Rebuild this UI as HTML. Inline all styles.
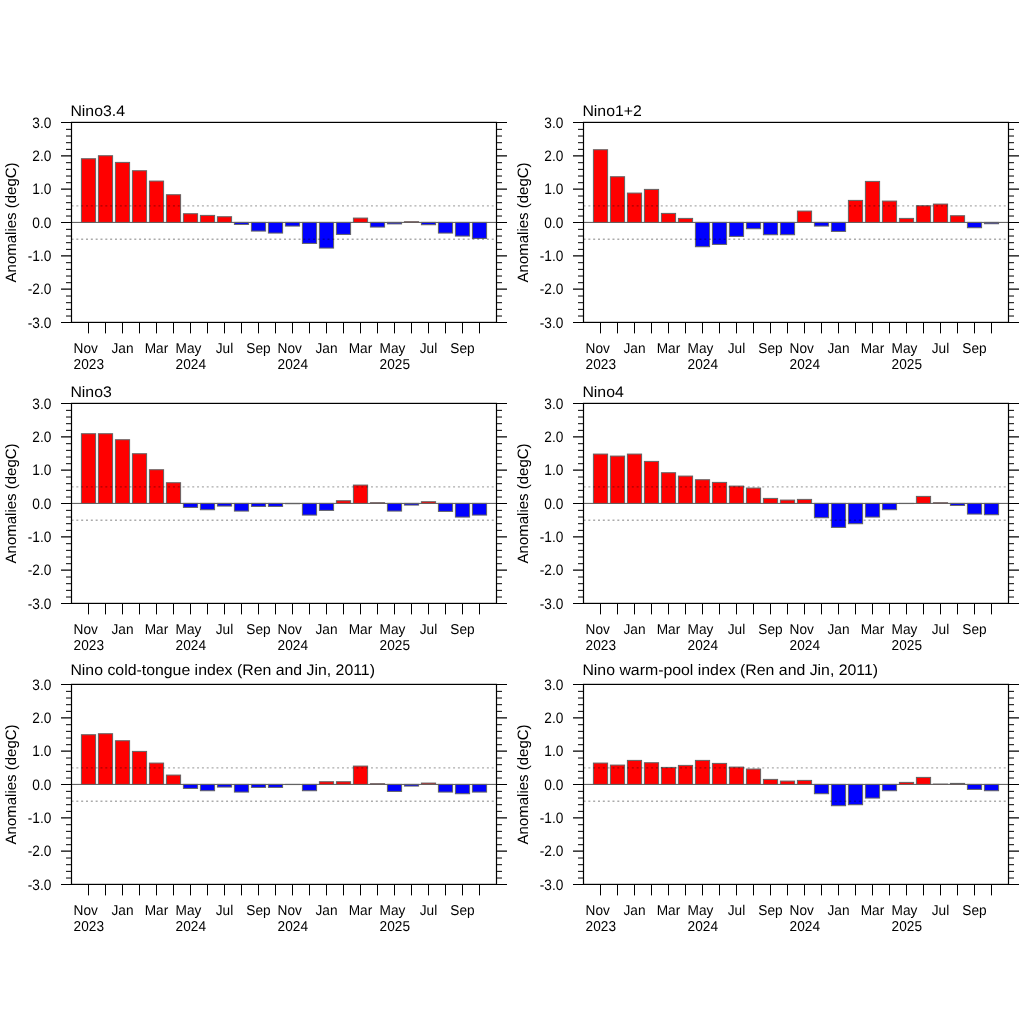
<!DOCTYPE html>
<html><head><meta charset="utf-8"><style>
html,body{margin:0;padding:0;background:#fff;}
svg{display:block;will-change:transform;}
text{text-rendering:geometricPrecision;}
.t{font-family:"Liberation Sans", sans-serif;font-size:14.3px;fill:#000;}
.ti{font-family:"Liberation Sans", sans-serif;font-size:15.3px;fill:#000;}
.ty{font-family:"Liberation Sans", sans-serif;font-size:15.2px;fill:#000;}
.ya{font-family:"Liberation Sans", sans-serif;font-size:15px;fill:#000;}
</style></head><body>
<svg width="1024" height="1024" viewBox="0 0 1024 1024">

<line x1="71.5" y1="222.4" x2="496.5" y2="222.4" stroke="#555" stroke-width="1"/>
<rect x="81.4" y="158.73" width="14.2" height="63.67" fill="#ff0000" stroke="#636363" stroke-width="1"/>
<rect x="98.4" y="155.73" width="14.2" height="66.67" fill="#ff0000" stroke="#636363" stroke-width="1"/>
<rect x="115.4" y="162.4" width="14.2" height="60" fill="#ff0000" stroke="#636363" stroke-width="1"/>
<rect x="132.4" y="170.73" width="14.2" height="51.67" fill="#ff0000" stroke="#636363" stroke-width="1"/>
<rect x="149.4" y="181.07" width="14.2" height="41.33" fill="#ff0000" stroke="#636363" stroke-width="1"/>
<rect x="166.4" y="194.73" width="14.2" height="27.67" fill="#ff0000" stroke="#636363" stroke-width="1"/>
<rect x="183.4" y="213.73" width="14.2" height="8.67" fill="#ff0000" stroke="#636363" stroke-width="1"/>
<rect x="200.4" y="215.4" width="14.2" height="7" fill="#ff0000" stroke="#636363" stroke-width="1"/>
<rect x="217.4" y="216.73" width="14.2" height="5.67" fill="#ff0000" stroke="#636363" stroke-width="1"/>
<rect x="234.4" y="222.4" width="14.2" height="2" fill="#0000ff" stroke="#636363" stroke-width="1"/>
<rect x="251.4" y="222.4" width="14.2" height="8.67" fill="#0000ff" stroke="#636363" stroke-width="1"/>
<rect x="268.4" y="222.4" width="14.2" height="10.67" fill="#0000ff" stroke="#636363" stroke-width="1"/>
<rect x="285.4" y="222.4" width="14.2" height="3.67" fill="#0000ff" stroke="#636363" stroke-width="1"/>
<rect x="302.4" y="222.4" width="14.2" height="21" fill="#0000ff" stroke="#636363" stroke-width="1"/>
<rect x="319.4" y="222.4" width="14.2" height="25.67" fill="#0000ff" stroke="#636363" stroke-width="1"/>
<rect x="336.4" y="222.4" width="14.2" height="12" fill="#0000ff" stroke="#636363" stroke-width="1"/>
<rect x="353.4" y="218.07" width="14.2" height="4.33" fill="#ff0000" stroke="#636363" stroke-width="1"/>
<rect x="370.4" y="222.4" width="14.2" height="4.67" fill="#0000ff" stroke="#636363" stroke-width="1"/>
<rect x="387.4" y="222.4" width="14.2" height="1.5" fill="#0000ff" stroke="#636363" stroke-width="1"/>
<rect x="404.4" y="221.73" width="14.2" height="0.67" fill="#ff0000" stroke="#636363" stroke-width="1"/>
<rect x="421.4" y="222.4" width="14.2" height="2.33" fill="#0000ff" stroke="#636363" stroke-width="1"/>
<rect x="438.4" y="222.4" width="14.2" height="10.67" fill="#0000ff" stroke="#636363" stroke-width="1"/>
<rect x="455.4" y="222.4" width="14.2" height="13.67" fill="#0000ff" stroke="#636363" stroke-width="1"/>
<rect x="472.4" y="222.4" width="14.2" height="16" fill="#0000ff" stroke="#636363" stroke-width="1"/>
<line x1="71.5" y1="205.93" x2="496.5" y2="205.93" stroke="#000" stroke-opacity="0.33" stroke-width="1.3" stroke-dasharray="2 2.83"/>
<line x1="71.5" y1="239.27" x2="496.5" y2="239.27" stroke="#000" stroke-opacity="0.33" stroke-width="1.3" stroke-dasharray="2 2.83"/>
<rect x="71.5" y="122.4" width="425" height="200" fill="none" stroke="#000" stroke-width="1.2"/>
<path d="M61 122.5H71.5M496.5 122.5H507M61 155.83H71.5M496.5 155.83H507M61 189.17H71.5M496.5 189.17H507M61 222.5H71.5M496.5 222.5H507M61 255.83H71.5M496.5 255.83H507M61 289.17H71.5M496.5 289.17H507M61 322.5H71.5M496.5 322.5H507" stroke="#000" stroke-width="1.2" fill="none"/>
<path d="M66 129.37H71.5M496.5 129.37H502M66 136.03H71.5M496.5 136.03H502M66 142.7H71.5M496.5 142.7H502M66 149.37H71.5M496.5 149.37H502M66 162.7H71.5M496.5 162.7H502M66 169.37H71.5M496.5 169.37H502M66 176.03H71.5M496.5 176.03H502M66 182.7H71.5M496.5 182.7H502M66 196.03H71.5M496.5 196.03H502M66 202.7H71.5M496.5 202.7H502M66 209.37H71.5M496.5 209.37H502M66 216.03H71.5M496.5 216.03H502M66 229.37H71.5M496.5 229.37H502M66 236.03H71.5M496.5 236.03H502M66 242.7H71.5M496.5 242.7H502M66 249.37H71.5M496.5 249.37H502M66 262.7H71.5M496.5 262.7H502M66 269.37H71.5M496.5 269.37H502M66 276.03H71.5M496.5 276.03H502M66 282.7H71.5M496.5 282.7H502M66 296.03H71.5M496.5 296.03H502M66 302.7H71.5M496.5 302.7H502M66 309.37H71.5M496.5 309.37H502M66 316.03H71.5M496.5 316.03H502M88.5 322.4V333.4M105.5 322.4V333.4M122.5 322.4V333.4M139.5 322.4V333.4M156.5 322.4V333.4M173.5 322.4V333.4M190.5 322.4V333.4M207.5 322.4V333.4M224.5 322.4V333.4M241.5 322.4V333.4M258.5 322.4V333.4M275.5 322.4V333.4M292.5 322.4V333.4M309.5 322.4V333.4M326.5 322.4V333.4M343.5 322.4V333.4M360.5 322.4V333.4M377.5 322.4V333.4M394.5 322.4V333.4M411.5 322.4V333.4M428.5 322.4V333.4M445.5 322.4V333.4M462.5 322.4V333.4M479.5 322.4V333.4" stroke="#000" stroke-width="1.0" fill="none"/>
<text transform="translate(51.3 127.8) scale(0.9 1)" text-anchor="end" class="ty">3.0</text>
<text transform="translate(51.3 161.13) scale(0.9 1)" text-anchor="end" class="ty">2.0</text>
<text transform="translate(51.3 194.47) scale(0.9 1)" text-anchor="end" class="ty">1.0</text>
<text transform="translate(51.3 227.8) scale(0.9 1)" text-anchor="end" class="ty">0.0</text>
<text transform="translate(51.3 261.13) scale(0.9 1)" text-anchor="end" class="ty">-1.0</text>
<text transform="translate(51.3 294.47) scale(0.9 1)" text-anchor="end" class="ty">-2.0</text>
<text transform="translate(51.3 327.8) scale(0.9 1)" text-anchor="end" class="ty">-3.0</text>
<text transform="translate(73.6 353) scale(0.955 1)" class="t">Nov</text>
<text transform="translate(73.6 368.5) scale(0.955 1)" class="t">2023</text>
<text transform="translate(122.5 353) scale(0.955 1)" text-anchor="middle" class="t">Jan</text>
<text transform="translate(156.5 353) scale(0.955 1)" text-anchor="middle" class="t">Mar</text>
<text transform="translate(175.6 353) scale(0.955 1)" class="t">May</text>
<text transform="translate(175.6 368.5) scale(0.955 1)" class="t">2024</text>
<text transform="translate(224.5 353) scale(0.955 1)" text-anchor="middle" class="t">Jul</text>
<text transform="translate(258.5 353) scale(0.955 1)" text-anchor="middle" class="t">Sep</text>
<text transform="translate(277.6 353) scale(0.955 1)" class="t">Nov</text>
<text transform="translate(277.6 368.5) scale(0.955 1)" class="t">2024</text>
<text transform="translate(326.5 353) scale(0.955 1)" text-anchor="middle" class="t">Jan</text>
<text transform="translate(360.5 353) scale(0.955 1)" text-anchor="middle" class="t">Mar</text>
<text transform="translate(379.6 353) scale(0.955 1)" class="t">May</text>
<text transform="translate(379.6 368.5) scale(0.955 1)" class="t">2025</text>
<text transform="translate(428.5 353) scale(0.955 1)" text-anchor="middle" class="t">Jul</text>
<text transform="translate(462.5 353) scale(0.955 1)" text-anchor="middle" class="t">Sep</text>
<text transform="translate(70.4 116.25) scale(1.036 1)" class="ti">Nino3.4</text>
<text transform="translate(15.8 222.4) rotate(-90)" text-anchor="middle" class="ya">Anomalies (degC)</text>
<line x1="583.5" y1="222.4" x2="1008.5" y2="222.4" stroke="#555" stroke-width="1"/>
<rect x="593.4" y="149.73" width="14.2" height="72.67" fill="#ff0000" stroke="#636363" stroke-width="1"/>
<rect x="610.4" y="176.73" width="14.2" height="45.67" fill="#ff0000" stroke="#636363" stroke-width="1"/>
<rect x="627.4" y="193.07" width="14.2" height="29.33" fill="#ff0000" stroke="#636363" stroke-width="1"/>
<rect x="644.4" y="189.4" width="14.2" height="33" fill="#ff0000" stroke="#636363" stroke-width="1"/>
<rect x="661.4" y="213.4" width="14.2" height="9" fill="#ff0000" stroke="#636363" stroke-width="1"/>
<rect x="678.4" y="218.4" width="14.2" height="4" fill="#ff0000" stroke="#636363" stroke-width="1"/>
<rect x="695.4" y="222.4" width="14.2" height="24.33" fill="#0000ff" stroke="#636363" stroke-width="1"/>
<rect x="712.4" y="222.4" width="14.2" height="22" fill="#0000ff" stroke="#636363" stroke-width="1"/>
<rect x="729.4" y="222.4" width="14.2" height="14" fill="#0000ff" stroke="#636363" stroke-width="1"/>
<rect x="746.4" y="222.4" width="14.2" height="6.33" fill="#0000ff" stroke="#636363" stroke-width="1"/>
<rect x="763.4" y="222.4" width="14.2" height="12.33" fill="#0000ff" stroke="#636363" stroke-width="1"/>
<rect x="780.4" y="222.4" width="14.2" height="12.33" fill="#0000ff" stroke="#636363" stroke-width="1"/>
<rect x="797.4" y="211.07" width="14.2" height="11.33" fill="#ff0000" stroke="#636363" stroke-width="1"/>
<rect x="814.4" y="222.4" width="14.2" height="3.67" fill="#0000ff" stroke="#636363" stroke-width="1"/>
<rect x="831.4" y="222.4" width="14.2" height="9" fill="#0000ff" stroke="#636363" stroke-width="1"/>
<rect x="848.4" y="200.4" width="14.2" height="22" fill="#ff0000" stroke="#636363" stroke-width="1"/>
<rect x="865.4" y="181.4" width="14.2" height="41" fill="#ff0000" stroke="#636363" stroke-width="1"/>
<rect x="882.4" y="201.07" width="14.2" height="21.33" fill="#ff0000" stroke="#636363" stroke-width="1"/>
<rect x="899.4" y="218.4" width="14.2" height="4" fill="#ff0000" stroke="#636363" stroke-width="1"/>
<rect x="916.4" y="205.73" width="14.2" height="16.67" fill="#ff0000" stroke="#636363" stroke-width="1"/>
<rect x="933.4" y="204.07" width="14.2" height="18.33" fill="#ff0000" stroke="#636363" stroke-width="1"/>
<rect x="950.4" y="215.73" width="14.2" height="6.67" fill="#ff0000" stroke="#636363" stroke-width="1"/>
<rect x="967.4" y="222.4" width="14.2" height="5.33" fill="#0000ff" stroke="#636363" stroke-width="1"/>
<rect x="984.4" y="222.4" width="14.2" height="1.33" fill="#0000ff" stroke="#636363" stroke-width="1"/>
<line x1="583.5" y1="205.93" x2="1008.5" y2="205.93" stroke="#000" stroke-opacity="0.33" stroke-width="1.3" stroke-dasharray="2 2.83"/>
<line x1="583.5" y1="239.27" x2="1008.5" y2="239.27" stroke="#000" stroke-opacity="0.33" stroke-width="1.3" stroke-dasharray="2 2.83"/>
<rect x="583.5" y="122.4" width="425" height="200" fill="none" stroke="#000" stroke-width="1.2"/>
<path d="M573 122.5H583.5M1008.5 122.5H1019M573 155.83H583.5M1008.5 155.83H1019M573 189.17H583.5M1008.5 189.17H1019M573 222.5H583.5M1008.5 222.5H1019M573 255.83H583.5M1008.5 255.83H1019M573 289.17H583.5M1008.5 289.17H1019M573 322.5H583.5M1008.5 322.5H1019" stroke="#000" stroke-width="1.2" fill="none"/>
<path d="M578 129.37H583.5M1008.5 129.37H1014M578 136.03H583.5M1008.5 136.03H1014M578 142.7H583.5M1008.5 142.7H1014M578 149.37H583.5M1008.5 149.37H1014M578 162.7H583.5M1008.5 162.7H1014M578 169.37H583.5M1008.5 169.37H1014M578 176.03H583.5M1008.5 176.03H1014M578 182.7H583.5M1008.5 182.7H1014M578 196.03H583.5M1008.5 196.03H1014M578 202.7H583.5M1008.5 202.7H1014M578 209.37H583.5M1008.5 209.37H1014M578 216.03H583.5M1008.5 216.03H1014M578 229.37H583.5M1008.5 229.37H1014M578 236.03H583.5M1008.5 236.03H1014M578 242.7H583.5M1008.5 242.7H1014M578 249.37H583.5M1008.5 249.37H1014M578 262.7H583.5M1008.5 262.7H1014M578 269.37H583.5M1008.5 269.37H1014M578 276.03H583.5M1008.5 276.03H1014M578 282.7H583.5M1008.5 282.7H1014M578 296.03H583.5M1008.5 296.03H1014M578 302.7H583.5M1008.5 302.7H1014M578 309.37H583.5M1008.5 309.37H1014M578 316.03H583.5M1008.5 316.03H1014M600.5 322.4V333.4M617.5 322.4V333.4M634.5 322.4V333.4M651.5 322.4V333.4M668.5 322.4V333.4M685.5 322.4V333.4M702.5 322.4V333.4M719.5 322.4V333.4M736.5 322.4V333.4M753.5 322.4V333.4M770.5 322.4V333.4M787.5 322.4V333.4M804.5 322.4V333.4M821.5 322.4V333.4M838.5 322.4V333.4M855.5 322.4V333.4M872.5 322.4V333.4M889.5 322.4V333.4M906.5 322.4V333.4M923.5 322.4V333.4M940.5 322.4V333.4M957.5 322.4V333.4M974.5 322.4V333.4M991.5 322.4V333.4" stroke="#000" stroke-width="1.0" fill="none"/>
<text transform="translate(563.3 127.8) scale(0.9 1)" text-anchor="end" class="ty">3.0</text>
<text transform="translate(563.3 161.13) scale(0.9 1)" text-anchor="end" class="ty">2.0</text>
<text transform="translate(563.3 194.47) scale(0.9 1)" text-anchor="end" class="ty">1.0</text>
<text transform="translate(563.3 227.8) scale(0.9 1)" text-anchor="end" class="ty">0.0</text>
<text transform="translate(563.3 261.13) scale(0.9 1)" text-anchor="end" class="ty">-1.0</text>
<text transform="translate(563.3 294.47) scale(0.9 1)" text-anchor="end" class="ty">-2.0</text>
<text transform="translate(563.3 327.8) scale(0.9 1)" text-anchor="end" class="ty">-3.0</text>
<text transform="translate(585.6 353) scale(0.955 1)" class="t">Nov</text>
<text transform="translate(585.6 368.5) scale(0.955 1)" class="t">2023</text>
<text transform="translate(634.5 353) scale(0.955 1)" text-anchor="middle" class="t">Jan</text>
<text transform="translate(668.5 353) scale(0.955 1)" text-anchor="middle" class="t">Mar</text>
<text transform="translate(687.6 353) scale(0.955 1)" class="t">May</text>
<text transform="translate(687.6 368.5) scale(0.955 1)" class="t">2024</text>
<text transform="translate(736.5 353) scale(0.955 1)" text-anchor="middle" class="t">Jul</text>
<text transform="translate(770.5 353) scale(0.955 1)" text-anchor="middle" class="t">Sep</text>
<text transform="translate(789.6 353) scale(0.955 1)" class="t">Nov</text>
<text transform="translate(789.6 368.5) scale(0.955 1)" class="t">2024</text>
<text transform="translate(838.5 353) scale(0.955 1)" text-anchor="middle" class="t">Jan</text>
<text transform="translate(872.5 353) scale(0.955 1)" text-anchor="middle" class="t">Mar</text>
<text transform="translate(891.6 353) scale(0.955 1)" class="t">May</text>
<text transform="translate(891.6 368.5) scale(0.955 1)" class="t">2025</text>
<text transform="translate(940.5 353) scale(0.955 1)" text-anchor="middle" class="t">Jul</text>
<text transform="translate(974.5 353) scale(0.955 1)" text-anchor="middle" class="t">Sep</text>
<text transform="translate(582.4 116.25) scale(1.036 1)" class="ti">Nino1+2</text>
<text transform="translate(527.8 222.4) rotate(-90)" text-anchor="middle" class="ya">Anomalies (degC)</text>
<line x1="71.5" y1="503.4" x2="496.5" y2="503.4" stroke="#555" stroke-width="1"/>
<rect x="81.4" y="433.73" width="14.2" height="69.67" fill="#ff0000" stroke="#636363" stroke-width="1"/>
<rect x="98.4" y="433.73" width="14.2" height="69.67" fill="#ff0000" stroke="#636363" stroke-width="1"/>
<rect x="115.4" y="439.73" width="14.2" height="63.67" fill="#ff0000" stroke="#636363" stroke-width="1"/>
<rect x="132.4" y="453.73" width="14.2" height="49.67" fill="#ff0000" stroke="#636363" stroke-width="1"/>
<rect x="149.4" y="469.73" width="14.2" height="33.67" fill="#ff0000" stroke="#636363" stroke-width="1"/>
<rect x="166.4" y="482.73" width="14.2" height="20.67" fill="#ff0000" stroke="#636363" stroke-width="1"/>
<rect x="183.4" y="503.4" width="14.2" height="4" fill="#0000ff" stroke="#636363" stroke-width="1"/>
<rect x="200.4" y="503.4" width="14.2" height="6.33" fill="#0000ff" stroke="#636363" stroke-width="1"/>
<rect x="217.4" y="503.4" width="14.2" height="2.67" fill="#0000ff" stroke="#636363" stroke-width="1"/>
<rect x="234.4" y="503.4" width="14.2" height="7.67" fill="#0000ff" stroke="#636363" stroke-width="1"/>
<rect x="251.4" y="503.4" width="14.2" height="3" fill="#0000ff" stroke="#636363" stroke-width="1"/>
<rect x="268.4" y="503.4" width="14.2" height="3" fill="#0000ff" stroke="#636363" stroke-width="1"/>
<rect x="285.4" y="503.4" width="14.2" height="0.33" fill="#0000ff" stroke="#636363" stroke-width="1"/>
<rect x="302.4" y="503.4" width="14.2" height="11.67" fill="#0000ff" stroke="#636363" stroke-width="1"/>
<rect x="319.4" y="503.4" width="14.2" height="7" fill="#0000ff" stroke="#636363" stroke-width="1"/>
<rect x="336.4" y="500.73" width="14.2" height="2.67" fill="#ff0000" stroke="#636363" stroke-width="1"/>
<rect x="353.4" y="485.07" width="14.2" height="18.33" fill="#ff0000" stroke="#636363" stroke-width="1"/>
<rect x="370.4" y="502.73" width="14.2" height="0.67" fill="#ff0000" stroke="#636363" stroke-width="1"/>
<rect x="387.4" y="503.4" width="14.2" height="7.67" fill="#0000ff" stroke="#636363" stroke-width="1"/>
<rect x="404.4" y="503.4" width="14.2" height="1.67" fill="#0000ff" stroke="#636363" stroke-width="1"/>
<rect x="421.4" y="501.73" width="14.2" height="1.67" fill="#ff0000" stroke="#636363" stroke-width="1"/>
<rect x="438.4" y="503.4" width="14.2" height="8" fill="#0000ff" stroke="#636363" stroke-width="1"/>
<rect x="455.4" y="503.4" width="14.2" height="13.67" fill="#0000ff" stroke="#636363" stroke-width="1"/>
<rect x="472.4" y="503.4" width="14.2" height="11.67" fill="#0000ff" stroke="#636363" stroke-width="1"/>
<line x1="71.5" y1="486.93" x2="496.5" y2="486.93" stroke="#000" stroke-opacity="0.33" stroke-width="1.3" stroke-dasharray="2 2.83"/>
<line x1="71.5" y1="520.27" x2="496.5" y2="520.27" stroke="#000" stroke-opacity="0.33" stroke-width="1.3" stroke-dasharray="2 2.83"/>
<rect x="71.5" y="403.4" width="425" height="200" fill="none" stroke="#000" stroke-width="1.2"/>
<path d="M61 403.5H71.5M496.5 403.5H507M61 436.83H71.5M496.5 436.83H507M61 470.17H71.5M496.5 470.17H507M61 503.5H71.5M496.5 503.5H507M61 536.83H71.5M496.5 536.83H507M61 570.17H71.5M496.5 570.17H507M61 603.5H71.5M496.5 603.5H507" stroke="#000" stroke-width="1.2" fill="none"/>
<path d="M66 410.37H71.5M496.5 410.37H502M66 417.03H71.5M496.5 417.03H502M66 423.7H71.5M496.5 423.7H502M66 430.37H71.5M496.5 430.37H502M66 443.7H71.5M496.5 443.7H502M66 450.37H71.5M496.5 450.37H502M66 457.03H71.5M496.5 457.03H502M66 463.7H71.5M496.5 463.7H502M66 477.03H71.5M496.5 477.03H502M66 483.7H71.5M496.5 483.7H502M66 490.37H71.5M496.5 490.37H502M66 497.03H71.5M496.5 497.03H502M66 510.37H71.5M496.5 510.37H502M66 517.03H71.5M496.5 517.03H502M66 523.7H71.5M496.5 523.7H502M66 530.37H71.5M496.5 530.37H502M66 543.7H71.5M496.5 543.7H502M66 550.37H71.5M496.5 550.37H502M66 557.03H71.5M496.5 557.03H502M66 563.7H71.5M496.5 563.7H502M66 577.03H71.5M496.5 577.03H502M66 583.7H71.5M496.5 583.7H502M66 590.37H71.5M496.5 590.37H502M66 597.03H71.5M496.5 597.03H502M88.5 603.4V614.4M105.5 603.4V614.4M122.5 603.4V614.4M139.5 603.4V614.4M156.5 603.4V614.4M173.5 603.4V614.4M190.5 603.4V614.4M207.5 603.4V614.4M224.5 603.4V614.4M241.5 603.4V614.4M258.5 603.4V614.4M275.5 603.4V614.4M292.5 603.4V614.4M309.5 603.4V614.4M326.5 603.4V614.4M343.5 603.4V614.4M360.5 603.4V614.4M377.5 603.4V614.4M394.5 603.4V614.4M411.5 603.4V614.4M428.5 603.4V614.4M445.5 603.4V614.4M462.5 603.4V614.4M479.5 603.4V614.4" stroke="#000" stroke-width="1.0" fill="none"/>
<text transform="translate(51.3 408.8) scale(0.9 1)" text-anchor="end" class="ty">3.0</text>
<text transform="translate(51.3 442.13) scale(0.9 1)" text-anchor="end" class="ty">2.0</text>
<text transform="translate(51.3 475.47) scale(0.9 1)" text-anchor="end" class="ty">1.0</text>
<text transform="translate(51.3 508.8) scale(0.9 1)" text-anchor="end" class="ty">0.0</text>
<text transform="translate(51.3 542.13) scale(0.9 1)" text-anchor="end" class="ty">-1.0</text>
<text transform="translate(51.3 575.47) scale(0.9 1)" text-anchor="end" class="ty">-2.0</text>
<text transform="translate(51.3 608.8) scale(0.9 1)" text-anchor="end" class="ty">-3.0</text>
<text transform="translate(73.6 634) scale(0.955 1)" class="t">Nov</text>
<text transform="translate(73.6 649.5) scale(0.955 1)" class="t">2023</text>
<text transform="translate(122.5 634) scale(0.955 1)" text-anchor="middle" class="t">Jan</text>
<text transform="translate(156.5 634) scale(0.955 1)" text-anchor="middle" class="t">Mar</text>
<text transform="translate(175.6 634) scale(0.955 1)" class="t">May</text>
<text transform="translate(175.6 649.5) scale(0.955 1)" class="t">2024</text>
<text transform="translate(224.5 634) scale(0.955 1)" text-anchor="middle" class="t">Jul</text>
<text transform="translate(258.5 634) scale(0.955 1)" text-anchor="middle" class="t">Sep</text>
<text transform="translate(277.6 634) scale(0.955 1)" class="t">Nov</text>
<text transform="translate(277.6 649.5) scale(0.955 1)" class="t">2024</text>
<text transform="translate(326.5 634) scale(0.955 1)" text-anchor="middle" class="t">Jan</text>
<text transform="translate(360.5 634) scale(0.955 1)" text-anchor="middle" class="t">Mar</text>
<text transform="translate(379.6 634) scale(0.955 1)" class="t">May</text>
<text transform="translate(379.6 649.5) scale(0.955 1)" class="t">2025</text>
<text transform="translate(428.5 634) scale(0.955 1)" text-anchor="middle" class="t">Jul</text>
<text transform="translate(462.5 634) scale(0.955 1)" text-anchor="middle" class="t">Sep</text>
<text transform="translate(70.4 397.25) scale(1.036 1)" class="ti">Nino3</text>
<text transform="translate(15.8 503.4) rotate(-90)" text-anchor="middle" class="ya">Anomalies (degC)</text>
<line x1="583.5" y1="503.4" x2="1008.5" y2="503.4" stroke="#555" stroke-width="1"/>
<rect x="593.4" y="454.07" width="14.2" height="49.33" fill="#ff0000" stroke="#636363" stroke-width="1"/>
<rect x="610.4" y="456.07" width="14.2" height="47.33" fill="#ff0000" stroke="#636363" stroke-width="1"/>
<rect x="627.4" y="454.07" width="14.2" height="49.33" fill="#ff0000" stroke="#636363" stroke-width="1"/>
<rect x="644.4" y="461.4" width="14.2" height="42" fill="#ff0000" stroke="#636363" stroke-width="1"/>
<rect x="661.4" y="472.73" width="14.2" height="30.67" fill="#ff0000" stroke="#636363" stroke-width="1"/>
<rect x="678.4" y="476.07" width="14.2" height="27.33" fill="#ff0000" stroke="#636363" stroke-width="1"/>
<rect x="695.4" y="479.73" width="14.2" height="23.67" fill="#ff0000" stroke="#636363" stroke-width="1"/>
<rect x="712.4" y="482.4" width="14.2" height="21" fill="#ff0000" stroke="#636363" stroke-width="1"/>
<rect x="729.4" y="486.07" width="14.2" height="17.33" fill="#ff0000" stroke="#636363" stroke-width="1"/>
<rect x="746.4" y="488.07" width="14.2" height="15.33" fill="#ff0000" stroke="#636363" stroke-width="1"/>
<rect x="763.4" y="498.4" width="14.2" height="5" fill="#ff0000" stroke="#636363" stroke-width="1"/>
<rect x="780.4" y="500.07" width="14.2" height="3.33" fill="#ff0000" stroke="#636363" stroke-width="1"/>
<rect x="797.4" y="499.4" width="14.2" height="4" fill="#ff0000" stroke="#636363" stroke-width="1"/>
<rect x="814.4" y="503.4" width="14.2" height="14.33" fill="#0000ff" stroke="#636363" stroke-width="1"/>
<rect x="831.4" y="503.4" width="14.2" height="24" fill="#0000ff" stroke="#636363" stroke-width="1"/>
<rect x="848.4" y="503.4" width="14.2" height="20.33" fill="#0000ff" stroke="#636363" stroke-width="1"/>
<rect x="865.4" y="503.4" width="14.2" height="13.67" fill="#0000ff" stroke="#636363" stroke-width="1"/>
<rect x="882.4" y="503.4" width="14.2" height="6.33" fill="#0000ff" stroke="#636363" stroke-width="1"/>
<rect x="899.4" y="503.4" width="14.2" height="0.17" fill="#0000ff" stroke="#636363" stroke-width="1"/>
<rect x="916.4" y="496.4" width="14.2" height="7" fill="#ff0000" stroke="#636363" stroke-width="1"/>
<rect x="933.4" y="502.73" width="14.2" height="0.67" fill="#ff0000" stroke="#636363" stroke-width="1"/>
<rect x="950.4" y="503.4" width="14.2" height="2" fill="#0000ff" stroke="#636363" stroke-width="1"/>
<rect x="967.4" y="503.4" width="14.2" height="10.67" fill="#0000ff" stroke="#636363" stroke-width="1"/>
<rect x="984.4" y="503.4" width="14.2" height="11.33" fill="#0000ff" stroke="#636363" stroke-width="1"/>
<line x1="583.5" y1="486.93" x2="1008.5" y2="486.93" stroke="#000" stroke-opacity="0.33" stroke-width="1.3" stroke-dasharray="2 2.83"/>
<line x1="583.5" y1="520.27" x2="1008.5" y2="520.27" stroke="#000" stroke-opacity="0.33" stroke-width="1.3" stroke-dasharray="2 2.83"/>
<rect x="583.5" y="403.4" width="425" height="200" fill="none" stroke="#000" stroke-width="1.2"/>
<path d="M573 403.5H583.5M1008.5 403.5H1019M573 436.83H583.5M1008.5 436.83H1019M573 470.17H583.5M1008.5 470.17H1019M573 503.5H583.5M1008.5 503.5H1019M573 536.83H583.5M1008.5 536.83H1019M573 570.17H583.5M1008.5 570.17H1019M573 603.5H583.5M1008.5 603.5H1019" stroke="#000" stroke-width="1.2" fill="none"/>
<path d="M578 410.37H583.5M1008.5 410.37H1014M578 417.03H583.5M1008.5 417.03H1014M578 423.7H583.5M1008.5 423.7H1014M578 430.37H583.5M1008.5 430.37H1014M578 443.7H583.5M1008.5 443.7H1014M578 450.37H583.5M1008.5 450.37H1014M578 457.03H583.5M1008.5 457.03H1014M578 463.7H583.5M1008.5 463.7H1014M578 477.03H583.5M1008.5 477.03H1014M578 483.7H583.5M1008.5 483.7H1014M578 490.37H583.5M1008.5 490.37H1014M578 497.03H583.5M1008.5 497.03H1014M578 510.37H583.5M1008.5 510.37H1014M578 517.03H583.5M1008.5 517.03H1014M578 523.7H583.5M1008.5 523.7H1014M578 530.37H583.5M1008.5 530.37H1014M578 543.7H583.5M1008.5 543.7H1014M578 550.37H583.5M1008.5 550.37H1014M578 557.03H583.5M1008.5 557.03H1014M578 563.7H583.5M1008.5 563.7H1014M578 577.03H583.5M1008.5 577.03H1014M578 583.7H583.5M1008.5 583.7H1014M578 590.37H583.5M1008.5 590.37H1014M578 597.03H583.5M1008.5 597.03H1014M600.5 603.4V614.4M617.5 603.4V614.4M634.5 603.4V614.4M651.5 603.4V614.4M668.5 603.4V614.4M685.5 603.4V614.4M702.5 603.4V614.4M719.5 603.4V614.4M736.5 603.4V614.4M753.5 603.4V614.4M770.5 603.4V614.4M787.5 603.4V614.4M804.5 603.4V614.4M821.5 603.4V614.4M838.5 603.4V614.4M855.5 603.4V614.4M872.5 603.4V614.4M889.5 603.4V614.4M906.5 603.4V614.4M923.5 603.4V614.4M940.5 603.4V614.4M957.5 603.4V614.4M974.5 603.4V614.4M991.5 603.4V614.4" stroke="#000" stroke-width="1.0" fill="none"/>
<text transform="translate(563.3 408.8) scale(0.9 1)" text-anchor="end" class="ty">3.0</text>
<text transform="translate(563.3 442.13) scale(0.9 1)" text-anchor="end" class="ty">2.0</text>
<text transform="translate(563.3 475.47) scale(0.9 1)" text-anchor="end" class="ty">1.0</text>
<text transform="translate(563.3 508.8) scale(0.9 1)" text-anchor="end" class="ty">0.0</text>
<text transform="translate(563.3 542.13) scale(0.9 1)" text-anchor="end" class="ty">-1.0</text>
<text transform="translate(563.3 575.47) scale(0.9 1)" text-anchor="end" class="ty">-2.0</text>
<text transform="translate(563.3 608.8) scale(0.9 1)" text-anchor="end" class="ty">-3.0</text>
<text transform="translate(585.6 634) scale(0.955 1)" class="t">Nov</text>
<text transform="translate(585.6 649.5) scale(0.955 1)" class="t">2023</text>
<text transform="translate(634.5 634) scale(0.955 1)" text-anchor="middle" class="t">Jan</text>
<text transform="translate(668.5 634) scale(0.955 1)" text-anchor="middle" class="t">Mar</text>
<text transform="translate(687.6 634) scale(0.955 1)" class="t">May</text>
<text transform="translate(687.6 649.5) scale(0.955 1)" class="t">2024</text>
<text transform="translate(736.5 634) scale(0.955 1)" text-anchor="middle" class="t">Jul</text>
<text transform="translate(770.5 634) scale(0.955 1)" text-anchor="middle" class="t">Sep</text>
<text transform="translate(789.6 634) scale(0.955 1)" class="t">Nov</text>
<text transform="translate(789.6 649.5) scale(0.955 1)" class="t">2024</text>
<text transform="translate(838.5 634) scale(0.955 1)" text-anchor="middle" class="t">Jan</text>
<text transform="translate(872.5 634) scale(0.955 1)" text-anchor="middle" class="t">Mar</text>
<text transform="translate(891.6 634) scale(0.955 1)" class="t">May</text>
<text transform="translate(891.6 649.5) scale(0.955 1)" class="t">2025</text>
<text transform="translate(940.5 634) scale(0.955 1)" text-anchor="middle" class="t">Jul</text>
<text transform="translate(974.5 634) scale(0.955 1)" text-anchor="middle" class="t">Sep</text>
<text transform="translate(582.4 397.25) scale(1.036 1)" class="ti">Nino4</text>
<text transform="translate(527.8 503.4) rotate(-90)" text-anchor="middle" class="ya">Anomalies (degC)</text>
<line x1="71.5" y1="784.4" x2="496.5" y2="784.4" stroke="#555" stroke-width="1"/>
<rect x="81.4" y="734.73" width="14.2" height="49.67" fill="#ff0000" stroke="#636363" stroke-width="1"/>
<rect x="98.4" y="733.73" width="14.2" height="50.67" fill="#ff0000" stroke="#636363" stroke-width="1"/>
<rect x="115.4" y="740.73" width="14.2" height="43.67" fill="#ff0000" stroke="#636363" stroke-width="1"/>
<rect x="132.4" y="751.4" width="14.2" height="33" fill="#ff0000" stroke="#636363" stroke-width="1"/>
<rect x="149.4" y="763.07" width="14.2" height="21.33" fill="#ff0000" stroke="#636363" stroke-width="1"/>
<rect x="166.4" y="775.07" width="14.2" height="9.33" fill="#ff0000" stroke="#636363" stroke-width="1"/>
<rect x="183.4" y="784.4" width="14.2" height="4" fill="#0000ff" stroke="#636363" stroke-width="1"/>
<rect x="200.4" y="784.4" width="14.2" height="6.33" fill="#0000ff" stroke="#636363" stroke-width="1"/>
<rect x="217.4" y="784.4" width="14.2" height="2.67" fill="#0000ff" stroke="#636363" stroke-width="1"/>
<rect x="234.4" y="784.4" width="14.2" height="7.67" fill="#0000ff" stroke="#636363" stroke-width="1"/>
<rect x="251.4" y="784.4" width="14.2" height="3" fill="#0000ff" stroke="#636363" stroke-width="1"/>
<rect x="268.4" y="784.4" width="14.2" height="3" fill="#0000ff" stroke="#636363" stroke-width="1"/>
<rect x="285.4" y="784.4" width="14.2" height="0.17" fill="#0000ff" stroke="#636363" stroke-width="1"/>
<rect x="302.4" y="784.4" width="14.2" height="6.33" fill="#0000ff" stroke="#636363" stroke-width="1"/>
<rect x="319.4" y="781.73" width="14.2" height="2.67" fill="#ff0000" stroke="#636363" stroke-width="1"/>
<rect x="336.4" y="781.73" width="14.2" height="2.67" fill="#ff0000" stroke="#636363" stroke-width="1"/>
<rect x="353.4" y="766.07" width="14.2" height="18.33" fill="#ff0000" stroke="#636363" stroke-width="1"/>
<rect x="370.4" y="783.73" width="14.2" height="0.67" fill="#ff0000" stroke="#636363" stroke-width="1"/>
<rect x="387.4" y="784.4" width="14.2" height="7" fill="#0000ff" stroke="#636363" stroke-width="1"/>
<rect x="404.4" y="784.4" width="14.2" height="1.67" fill="#0000ff" stroke="#636363" stroke-width="1"/>
<rect x="421.4" y="783.07" width="14.2" height="1.33" fill="#ff0000" stroke="#636363" stroke-width="1"/>
<rect x="438.4" y="784.4" width="14.2" height="7.67" fill="#0000ff" stroke="#636363" stroke-width="1"/>
<rect x="455.4" y="784.4" width="14.2" height="9.33" fill="#0000ff" stroke="#636363" stroke-width="1"/>
<rect x="472.4" y="784.4" width="14.2" height="7.67" fill="#0000ff" stroke="#636363" stroke-width="1"/>
<line x1="71.5" y1="767.93" x2="496.5" y2="767.93" stroke="#000" stroke-opacity="0.33" stroke-width="1.3" stroke-dasharray="2 2.83"/>
<line x1="71.5" y1="801.27" x2="496.5" y2="801.27" stroke="#000" stroke-opacity="0.33" stroke-width="1.3" stroke-dasharray="2 2.83"/>
<rect x="71.5" y="684.4" width="425" height="200" fill="none" stroke="#000" stroke-width="1.2"/>
<path d="M61 684.5H71.5M496.5 684.5H507M61 717.83H71.5M496.5 717.83H507M61 751.17H71.5M496.5 751.17H507M61 784.5H71.5M496.5 784.5H507M61 817.83H71.5M496.5 817.83H507M61 851.17H71.5M496.5 851.17H507M61 884.5H71.5M496.5 884.5H507" stroke="#000" stroke-width="1.2" fill="none"/>
<path d="M66 691.37H71.5M496.5 691.37H502M66 698.03H71.5M496.5 698.03H502M66 704.7H71.5M496.5 704.7H502M66 711.37H71.5M496.5 711.37H502M66 724.7H71.5M496.5 724.7H502M66 731.37H71.5M496.5 731.37H502M66 738.03H71.5M496.5 738.03H502M66 744.7H71.5M496.5 744.7H502M66 758.03H71.5M496.5 758.03H502M66 764.7H71.5M496.5 764.7H502M66 771.37H71.5M496.5 771.37H502M66 778.03H71.5M496.5 778.03H502M66 791.37H71.5M496.5 791.37H502M66 798.03H71.5M496.5 798.03H502M66 804.7H71.5M496.5 804.7H502M66 811.37H71.5M496.5 811.37H502M66 824.7H71.5M496.5 824.7H502M66 831.37H71.5M496.5 831.37H502M66 838.03H71.5M496.5 838.03H502M66 844.7H71.5M496.5 844.7H502M66 858.03H71.5M496.5 858.03H502M66 864.7H71.5M496.5 864.7H502M66 871.37H71.5M496.5 871.37H502M66 878.03H71.5M496.5 878.03H502M88.5 884.4V895.4M105.5 884.4V895.4M122.5 884.4V895.4M139.5 884.4V895.4M156.5 884.4V895.4M173.5 884.4V895.4M190.5 884.4V895.4M207.5 884.4V895.4M224.5 884.4V895.4M241.5 884.4V895.4M258.5 884.4V895.4M275.5 884.4V895.4M292.5 884.4V895.4M309.5 884.4V895.4M326.5 884.4V895.4M343.5 884.4V895.4M360.5 884.4V895.4M377.5 884.4V895.4M394.5 884.4V895.4M411.5 884.4V895.4M428.5 884.4V895.4M445.5 884.4V895.4M462.5 884.4V895.4M479.5 884.4V895.4" stroke="#000" stroke-width="1.0" fill="none"/>
<text transform="translate(51.3 689.8) scale(0.9 1)" text-anchor="end" class="ty">3.0</text>
<text transform="translate(51.3 723.13) scale(0.9 1)" text-anchor="end" class="ty">2.0</text>
<text transform="translate(51.3 756.47) scale(0.9 1)" text-anchor="end" class="ty">1.0</text>
<text transform="translate(51.3 789.8) scale(0.9 1)" text-anchor="end" class="ty">0.0</text>
<text transform="translate(51.3 823.13) scale(0.9 1)" text-anchor="end" class="ty">-1.0</text>
<text transform="translate(51.3 856.47) scale(0.9 1)" text-anchor="end" class="ty">-2.0</text>
<text transform="translate(51.3 889.8) scale(0.9 1)" text-anchor="end" class="ty">-3.0</text>
<text transform="translate(73.6 915) scale(0.955 1)" class="t">Nov</text>
<text transform="translate(73.6 930.5) scale(0.955 1)" class="t">2023</text>
<text transform="translate(122.5 915) scale(0.955 1)" text-anchor="middle" class="t">Jan</text>
<text transform="translate(156.5 915) scale(0.955 1)" text-anchor="middle" class="t">Mar</text>
<text transform="translate(175.6 915) scale(0.955 1)" class="t">May</text>
<text transform="translate(175.6 930.5) scale(0.955 1)" class="t">2024</text>
<text transform="translate(224.5 915) scale(0.955 1)" text-anchor="middle" class="t">Jul</text>
<text transform="translate(258.5 915) scale(0.955 1)" text-anchor="middle" class="t">Sep</text>
<text transform="translate(277.6 915) scale(0.955 1)" class="t">Nov</text>
<text transform="translate(277.6 930.5) scale(0.955 1)" class="t">2024</text>
<text transform="translate(326.5 915) scale(0.955 1)" text-anchor="middle" class="t">Jan</text>
<text transform="translate(360.5 915) scale(0.955 1)" text-anchor="middle" class="t">Mar</text>
<text transform="translate(379.6 915) scale(0.955 1)" class="t">May</text>
<text transform="translate(379.6 930.5) scale(0.955 1)" class="t">2025</text>
<text transform="translate(428.5 915) scale(0.955 1)" text-anchor="middle" class="t">Jul</text>
<text transform="translate(462.5 915) scale(0.955 1)" text-anchor="middle" class="t">Sep</text>
<text transform="translate(70.4 675.15) scale(1.036 1)" class="ti">Nino cold-tongue index (Ren and Jin, 2011)</text>
<text transform="translate(15.8 784.4) rotate(-90)" text-anchor="middle" class="ya">Anomalies (degC)</text>
<line x1="583.5" y1="784.4" x2="1008.5" y2="784.4" stroke="#555" stroke-width="1"/>
<rect x="593.4" y="763.07" width="14.2" height="21.33" fill="#ff0000" stroke="#636363" stroke-width="1"/>
<rect x="610.4" y="765.07" width="14.2" height="19.33" fill="#ff0000" stroke="#636363" stroke-width="1"/>
<rect x="627.4" y="760.4" width="14.2" height="24" fill="#ff0000" stroke="#636363" stroke-width="1"/>
<rect x="644.4" y="762.73" width="14.2" height="21.67" fill="#ff0000" stroke="#636363" stroke-width="1"/>
<rect x="661.4" y="767.4" width="14.2" height="17" fill="#ff0000" stroke="#636363" stroke-width="1"/>
<rect x="678.4" y="765.4" width="14.2" height="19" fill="#ff0000" stroke="#636363" stroke-width="1"/>
<rect x="695.4" y="760.4" width="14.2" height="24" fill="#ff0000" stroke="#636363" stroke-width="1"/>
<rect x="712.4" y="763.4" width="14.2" height="21" fill="#ff0000" stroke="#636363" stroke-width="1"/>
<rect x="729.4" y="767.07" width="14.2" height="17.33" fill="#ff0000" stroke="#636363" stroke-width="1"/>
<rect x="746.4" y="769.07" width="14.2" height="15.33" fill="#ff0000" stroke="#636363" stroke-width="1"/>
<rect x="763.4" y="779.4" width="14.2" height="5" fill="#ff0000" stroke="#636363" stroke-width="1"/>
<rect x="780.4" y="781.07" width="14.2" height="3.33" fill="#ff0000" stroke="#636363" stroke-width="1"/>
<rect x="797.4" y="780.4" width="14.2" height="4" fill="#ff0000" stroke="#636363" stroke-width="1"/>
<rect x="814.4" y="784.4" width="14.2" height="9.33" fill="#0000ff" stroke="#636363" stroke-width="1"/>
<rect x="831.4" y="784.4" width="14.2" height="21.33" fill="#0000ff" stroke="#636363" stroke-width="1"/>
<rect x="848.4" y="784.4" width="14.2" height="20.33" fill="#0000ff" stroke="#636363" stroke-width="1"/>
<rect x="865.4" y="784.4" width="14.2" height="13.67" fill="#0000ff" stroke="#636363" stroke-width="1"/>
<rect x="882.4" y="784.4" width="14.2" height="6.33" fill="#0000ff" stroke="#636363" stroke-width="1"/>
<rect x="899.4" y="782.4" width="14.2" height="2" fill="#ff0000" stroke="#636363" stroke-width="1"/>
<rect x="916.4" y="777.4" width="14.2" height="7" fill="#ff0000" stroke="#636363" stroke-width="1"/>
<rect x="933.4" y="784.07" width="14.2" height="0.33" fill="#ff0000" stroke="#636363" stroke-width="1"/>
<rect x="950.4" y="783.4" width="14.2" height="1" fill="#ff0000" stroke="#636363" stroke-width="1"/>
<rect x="967.4" y="784.4" width="14.2" height="5" fill="#0000ff" stroke="#636363" stroke-width="1"/>
<rect x="984.4" y="784.4" width="14.2" height="6.33" fill="#0000ff" stroke="#636363" stroke-width="1"/>
<line x1="583.5" y1="767.93" x2="1008.5" y2="767.93" stroke="#000" stroke-opacity="0.33" stroke-width="1.3" stroke-dasharray="2 2.83"/>
<line x1="583.5" y1="801.27" x2="1008.5" y2="801.27" stroke="#000" stroke-opacity="0.33" stroke-width="1.3" stroke-dasharray="2 2.83"/>
<rect x="583.5" y="684.4" width="425" height="200" fill="none" stroke="#000" stroke-width="1.2"/>
<path d="M573 684.5H583.5M1008.5 684.5H1019M573 717.83H583.5M1008.5 717.83H1019M573 751.17H583.5M1008.5 751.17H1019M573 784.5H583.5M1008.5 784.5H1019M573 817.83H583.5M1008.5 817.83H1019M573 851.17H583.5M1008.5 851.17H1019M573 884.5H583.5M1008.5 884.5H1019" stroke="#000" stroke-width="1.2" fill="none"/>
<path d="M578 691.37H583.5M1008.5 691.37H1014M578 698.03H583.5M1008.5 698.03H1014M578 704.7H583.5M1008.5 704.7H1014M578 711.37H583.5M1008.5 711.37H1014M578 724.7H583.5M1008.5 724.7H1014M578 731.37H583.5M1008.5 731.37H1014M578 738.03H583.5M1008.5 738.03H1014M578 744.7H583.5M1008.5 744.7H1014M578 758.03H583.5M1008.5 758.03H1014M578 764.7H583.5M1008.5 764.7H1014M578 771.37H583.5M1008.5 771.37H1014M578 778.03H583.5M1008.5 778.03H1014M578 791.37H583.5M1008.5 791.37H1014M578 798.03H583.5M1008.5 798.03H1014M578 804.7H583.5M1008.5 804.7H1014M578 811.37H583.5M1008.5 811.37H1014M578 824.7H583.5M1008.5 824.7H1014M578 831.37H583.5M1008.5 831.37H1014M578 838.03H583.5M1008.5 838.03H1014M578 844.7H583.5M1008.5 844.7H1014M578 858.03H583.5M1008.5 858.03H1014M578 864.7H583.5M1008.5 864.7H1014M578 871.37H583.5M1008.5 871.37H1014M578 878.03H583.5M1008.5 878.03H1014M600.5 884.4V895.4M617.5 884.4V895.4M634.5 884.4V895.4M651.5 884.4V895.4M668.5 884.4V895.4M685.5 884.4V895.4M702.5 884.4V895.4M719.5 884.4V895.4M736.5 884.4V895.4M753.5 884.4V895.4M770.5 884.4V895.4M787.5 884.4V895.4M804.5 884.4V895.4M821.5 884.4V895.4M838.5 884.4V895.4M855.5 884.4V895.4M872.5 884.4V895.4M889.5 884.4V895.4M906.5 884.4V895.4M923.5 884.4V895.4M940.5 884.4V895.4M957.5 884.4V895.4M974.5 884.4V895.4M991.5 884.4V895.4" stroke="#000" stroke-width="1.0" fill="none"/>
<text transform="translate(563.3 689.8) scale(0.9 1)" text-anchor="end" class="ty">3.0</text>
<text transform="translate(563.3 723.13) scale(0.9 1)" text-anchor="end" class="ty">2.0</text>
<text transform="translate(563.3 756.47) scale(0.9 1)" text-anchor="end" class="ty">1.0</text>
<text transform="translate(563.3 789.8) scale(0.9 1)" text-anchor="end" class="ty">0.0</text>
<text transform="translate(563.3 823.13) scale(0.9 1)" text-anchor="end" class="ty">-1.0</text>
<text transform="translate(563.3 856.47) scale(0.9 1)" text-anchor="end" class="ty">-2.0</text>
<text transform="translate(563.3 889.8) scale(0.9 1)" text-anchor="end" class="ty">-3.0</text>
<text transform="translate(585.6 915) scale(0.955 1)" class="t">Nov</text>
<text transform="translate(585.6 930.5) scale(0.955 1)" class="t">2023</text>
<text transform="translate(634.5 915) scale(0.955 1)" text-anchor="middle" class="t">Jan</text>
<text transform="translate(668.5 915) scale(0.955 1)" text-anchor="middle" class="t">Mar</text>
<text transform="translate(687.6 915) scale(0.955 1)" class="t">May</text>
<text transform="translate(687.6 930.5) scale(0.955 1)" class="t">2024</text>
<text transform="translate(736.5 915) scale(0.955 1)" text-anchor="middle" class="t">Jul</text>
<text transform="translate(770.5 915) scale(0.955 1)" text-anchor="middle" class="t">Sep</text>
<text transform="translate(789.6 915) scale(0.955 1)" class="t">Nov</text>
<text transform="translate(789.6 930.5) scale(0.955 1)" class="t">2024</text>
<text transform="translate(838.5 915) scale(0.955 1)" text-anchor="middle" class="t">Jan</text>
<text transform="translate(872.5 915) scale(0.955 1)" text-anchor="middle" class="t">Mar</text>
<text transform="translate(891.6 915) scale(0.955 1)" class="t">May</text>
<text transform="translate(891.6 930.5) scale(0.955 1)" class="t">2025</text>
<text transform="translate(940.5 915) scale(0.955 1)" text-anchor="middle" class="t">Jul</text>
<text transform="translate(974.5 915) scale(0.955 1)" text-anchor="middle" class="t">Sep</text>
<text transform="translate(582.4 675.15) scale(1.036 1)" class="ti">Nino warm-pool index (Ren and Jin, 2011)</text>
<text transform="translate(527.8 784.4) rotate(-90)" text-anchor="middle" class="ya">Anomalies (degC)</text>
</svg></body></html>
